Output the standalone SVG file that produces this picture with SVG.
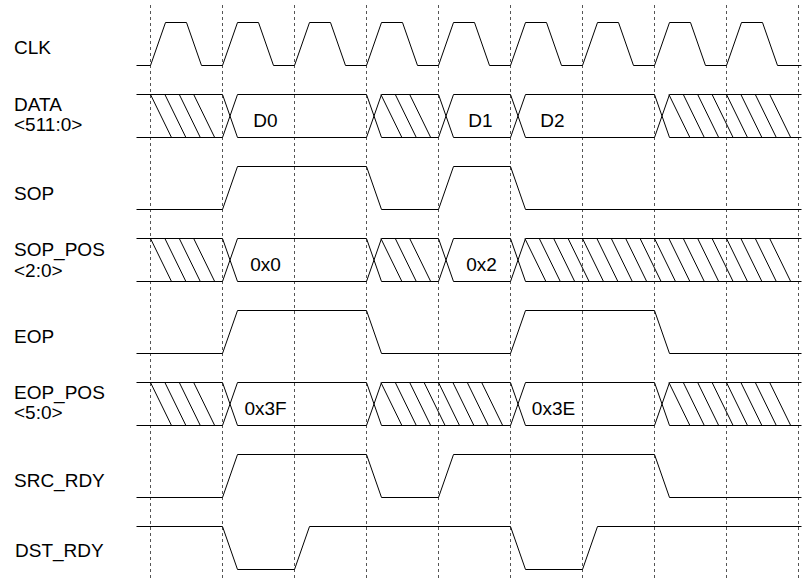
<svg xmlns="http://www.w3.org/2000/svg" width="802" height="581" viewBox="0 0 802 581">
<style>
.grid{stroke:#555;stroke-width:1;stroke-dasharray:3,3;fill:none}
.sig{stroke:#000;stroke-width:1;fill:none}
.lbl{font-family:"Liberation Sans",Arial,sans-serif;font-size:19px;fill:#000}
.val{font-family:"Liberation Sans",Arial,sans-serif;font-size:19px;fill:#000;text-anchor:middle}
</style>
<rect width="802" height="581" fill="#fff"/>
<g id="grid" class="grid">
<path d="M150.5,5V581M222.5,5V581M294.5,5V581M366.5,5V581M438.5,5V581M510.5,5V581M582.5,5V581M654.5,5V581M726.5,5V581M798.5,5V581"/>
</g>
<g id="connectors" transform="translate(0.5,0.5)">
<g id="clk" class="sig">
<path d="M136,65 H150 L165,22 H186 L201,65 H222 L237,22 H258 L273,65 H294 L309,22 H330 L345,65 H366 L381,22 H402 L417,65 H438 L453,22 H474 L489,65 H510 L525,22 H546 L561,65 H582 L597,22 H618 L633,65 H654 L669,22 H690 L705,65 H726 L741,22 H762 L777,65 H801"/>
</g>
<g id="data" class="sig">
<path d="M136,94 H222 L237,137 H366 L381,94 H438 L453,137 H510 L525,94 H654 L669,137 H801"/>
<path d="M136,137 H222 L237,94 H366 L381,137 H438 L453,94 H510 L525,137 H654 L669,94 H801"/>
<path d="M150,94l21,43M164.4,94l21,43M178.8,94l21,43M193.2,94l21,43M380.4,94l21,43M394.8,94l21,43M409.2,94l21,43M668.4,94l21,43M682.8,94l21,43M697.2,94l21,43M711.6,94l21,43M726,94l21,43M740.4,94l21,43M754.8,94l21,43M769.2,94l21,43"/>
</g>
<g id="sop" class="sig">
<path d="M136,209 H222 L237,166 H366 L381,209 H438 L453,166 H510 L525,209 H801"/>
</g>
<g id="sop_pos" class="sig">
<path d="M136,238 H222 L237,281 H366 L381,238 H438 L453,281 H510 L525,238 H801"/>
<path d="M136,281 H222 L237,238 H366 L381,281 H438 L453,238 H510 L525,281 H801"/>
<path d="M150,238l21,43M164.4,238l21,43M178.8,238l21,43M193.2,238l21,43M380.4,238l21,43M394.8,238l21,43M409.2,238l21,43M524.4,238l21,43M538.8,238l21,43M553.2,238l21,43M567.6,238l21,43M582,238l21,43M596.4,238l21,43M610.8,238l21,43M625.2,238l21,43M639.6,238l21,43M654,238l21,43M668.4,238l21,43M682.8,238l21,43M697.2,238l21,43M711.6,238l21,43M726,238l21,43M740.4,238l21,43M754.8,238l21,43M769.2,238l21,43"/>
</g>
<g id="eop" class="sig">
<path d="M136,353 H222 L237,310 H366 L381,353 H510 L525,310 H654 L669,353 H801"/>
</g>
<g id="eop_pos" class="sig">
<path d="M136,382 H222 L237,425 H366 L381,382 H510 L525,425 H654 L669,382 H801"/>
<path d="M136,425 H222 L237,382 H366 L381,425 H510 L525,382 H654 L669,425 H801"/>
<path d="M150,382l21,43M164.4,382l21,43M178.8,382l21,43M193.2,382l21,43M380.4,382l21,43M394.8,382l21,43M409.2,382l21,43M423.6,382l21,43M438,382l21,43M452.4,382l21,43M466.8,382l21,43M481.2,382l21,43M668.4,382l21,43M682.8,382l21,43M697.2,382l21,43M711.6,382l21,43M726,382l21,43M740.4,382l21,43M754.8,382l21,43M769.2,382l21,43"/>
</g>
<g id="src_rdy" class="sig">
<path d="M136,497 H222 L237,454 H366 L381,497 H438 L453,454 H654 L669,497 H801"/>
</g>
<g id="dst_rdy" class="sig">
<path d="M136,526 H222 L237,569 H294 L309,526 H510 L525,569 H582 L597,526 H801"/>
</g>
</g>
<g id="labels">
<g id="lbl_clk"><text class="lbl" x="14" y="54">CLK</text></g>
<g id="lbl_data"><text class="lbl" x="14" y="111">DATA</text><text class="lbl" x="14" y="131">&lt;511:0&gt;</text></g>
<g id="lbl_sop"><text class="lbl" x="14" y="200">SOP</text></g>
<g id="lbl_sop_pos"><text class="lbl" x="14" y="256">SOP_POS</text><text class="lbl" x="14" y="276.5">&lt;2:0&gt;</text></g>
<g id="lbl_eop"><text class="lbl" x="14" y="343">EOP</text></g>
<g id="lbl_eop_pos"><text class="lbl" x="14" y="399">EOP_POS</text><text class="lbl" x="14" y="419">&lt;5:0&gt;</text></g>
<g id="lbl_src_rdy"><text class="lbl" x="14" y="487">SRC_RDY</text></g>
<g id="lbl_dst_rdy"><text class="lbl" x="15" y="557">DST_RDY</text></g>
</g>
<g id="values">
<text class="val" x="265.5" y="126.5">D0</text>
<text class="val" x="480.5" y="126.5">D1</text>
<text class="val" x="552.5" y="126.5">D2</text>
<text class="val" x="265.5" y="270.5">0x0</text>
<text class="val" x="481.5" y="270.5">0x2</text>
<text class="val" x="265.5" y="414.5">0x3F</text>
<text class="val" x="553.5" y="414.5">0x3E</text>
</g>
</svg>
